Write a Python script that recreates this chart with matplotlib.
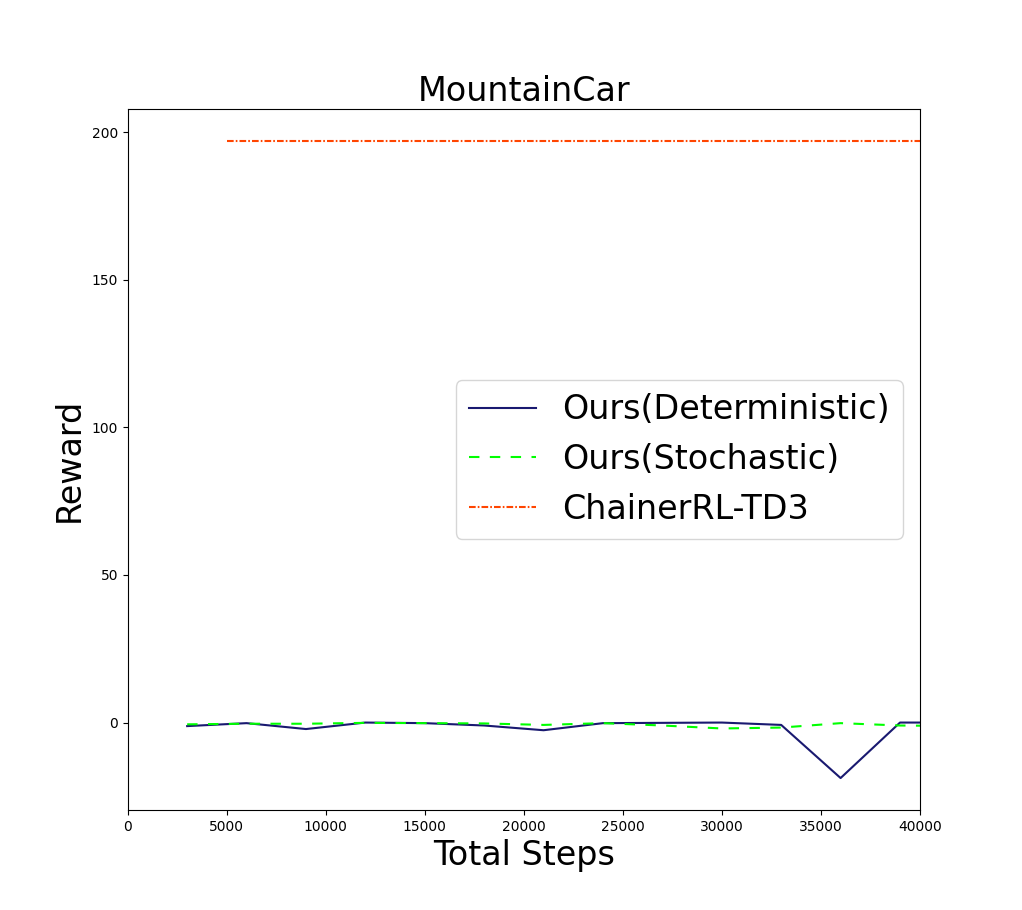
import numpy as np
import matplotlib
matplotlib.use('Agg')
import matplotlib.pyplot as plt

#------
#data
steps = [3000, 6000, 9000, 12000, 15000, 18000, 21000, 24000, 27000, 30000,
         33000, 36000, 39000, 42000]
det_reward = [-1.2, -0.2, -2.2, 0.0, -0.2, -1.0, -2.6, -0.2, -0.1, 0.0,
              -0.8, -18.8, 0.0, 0.0]
sto_reward = [-0.6, -0.4, -0.4, -0.1, -0.2, -0.3, -0.8, -0.2, -1.0, -2.0,
              -1.7, -0.2, -1.0, -1.2]

td3_steps = [5000, 10000, 15000, 20000, 25000, 30000, 35000, 40000]
td3_reward = [197, 197, 197, 197, 197, 197, 197, 197]

#------
#plot
fig, ax = plt.subplots(figsize=(10.22, 9.1), dpi=100)
ax.plot(steps, det_reward, color='midnightblue', linestyle='-',
        label='Ours(Deterministic)')
ax.plot(steps, sto_reward, color='lime', linestyle=(0, (5, 5)),
        label='Ours(Stochastic)')
ax.plot(td3_steps, td3_reward, color='orangered',
        linestyle=(0, (3.2, 1.0, 0.8, 1.0)), label='ChainerRL-TD3')
ax.set_xlim(0, 40000)
ax.set_xlabel("Total Steps", fontsize=24)
ax.set_ylabel("Reward", fontsize=24)
ax.set_title("MountainCar", fontsize=24)
ax.legend(loc='center right', fontsize=24)
fig.savefig('out.png', dpi=100)
